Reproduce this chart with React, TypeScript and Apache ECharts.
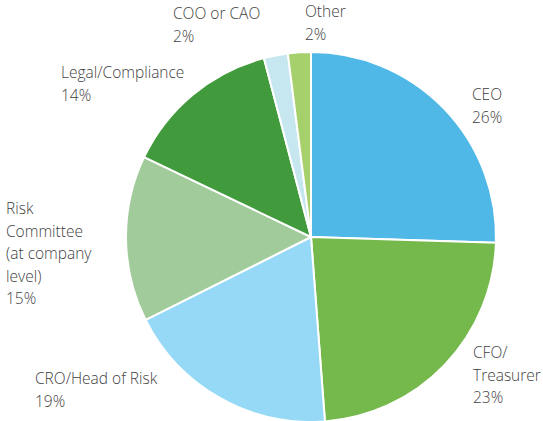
import React, { useEffect, useRef } from "react";
import * as echarts from "echarts";

const categories = [
  "CEO",
  "CFO/\nTreasurer",
  "CRO/Head of Risk",
  "Risk\nCommittee\n(at company\nlevel)",
  "Legal/Compliance",
  "COO or CAO",
  "Other",
];
const values = [25.5, 23.3, 18.8, 14.5, 13.8, 2.1, 2.0];
const colors = ["#4fb8e7", "#75b84c", "#95d9f6", "#a2cb9c", "#419a3c", "#c6e7f0", "#a5d06b"];

// label anchor (top-left) for each slice
const labelPos: [number, number][] = [
  [472, 83],
  [473, 341],
  [35, 367],
  [6, 197],
  [61, 61],
  [173, 2],
  [305, 0],
];

export default function App() {
  const ref = useRef<HTMLDivElement>(null);
  useEffect(() => {
    document.body.style.margin = "0";
    if (!ref.current) return;
    const chart = echarts.init(ref.current, undefined, { renderer: "svg" });
    chart.setOption({
      animation: false,
      series: [
        {
          type: "pie",
          center: [311, 237],
          radius: 185,
          startAngle: 90,
          clockwise: true,
          avoidLabelOverlap: false,
          itemStyle: { borderColor: "#ffffff", borderWidth: 2 },
          label: {
            show: true,
            position: "outside",
            formatter: (p: any) => `${p.name}\n${Math.round(p.value)}%`,
            fontFamily: "Open Sans",
            fontWeight: 300,
            fontSize: 15.5,
            lineHeight: 22.5,
            color: "#3f3f3f",
          },
          labelLine: { show: false },
          labelLayout: (params: any) => {
            const pos = labelPos[params.dataIndex];
            return { x: pos[0], y: pos[1], align: "left", verticalAlign: "top" };
          },
          emphasis: { disabled: true },
          data: categories.map((name, i) => ({
            name,
            value: values[i],
            itemStyle: { color: colors[i] },
          })),
        },
      ],
    });
    return () => chart.dispose();
  }, []);
  return <div ref={ref} style={{ width: 543, height: 421 }} />;
}
